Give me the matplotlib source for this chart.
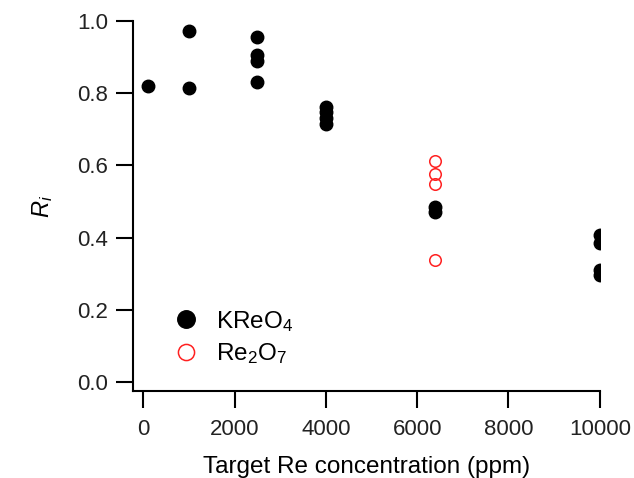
import matplotlib.pyplot as plt

plt.rcParams['font.family'] = ['Liberation Sans', 'DejaVu Sans']
plt.rcParams['mathtext.fontset'] = 'custom'
plt.rcParams['mathtext.rm'] = 'Liberation Sans'
plt.rcParams['mathtext.it'] = 'Liberation Sans:italic'

# KReO4 samples
kreo4_x = [100, 1000, 1000, 2500, 2500, 2500, 2500,
           4000, 4000, 4000, 4000, 6400, 6400,
           10000, 10000, 10000, 10000]
kreo4_y = [0.82, 0.972, 0.814, 0.956, 0.905, 0.89, 0.831,
           0.762, 0.748, 0.73, 0.715, 0.485, 0.47,
           0.407, 0.384, 0.31, 0.296]

# Re2O7 samples
re2o7_x = [6400, 6400, 6400, 6400]
re2o7_y = [0.612, 0.576, 0.548, 0.338]

fig, ax = plt.subplots(figsize=(6.34, 4.78), dpi=100)
fig.subplots_adjust(left=0.21, right=0.946, top=0.956, bottom=0.182)

ax.plot(kreo4_x, kreo4_y, 'o', color='black', markersize=9,
        label='KReO$_4$')
ax.plot(re2o7_x, re2o7_y, 'o', markerfacecolor='none',
        markeredgecolor='#ff2020', markeredgewidth=1.1, markersize=8.3,
        label='Re$_2$O$_7$')

ax.set_xlim(-220, 10000)
ax.set_ylim(-0.025, 1.0)
ax.set_xticks([0, 2000, 4000, 6000, 8000, 10000])
ax.set_yticks([0.0, 0.2, 0.4, 0.6, 0.8, 1.0])
ax.set_yticklabels(['0.0', '0.2', '0.4', '0.6', '0.8', '1.0'])

for s in ['top', 'right']:
    ax.spines[s].set_visible(False)
for s in ['left', 'bottom']:
    ax.spines[s].set_linewidth(1.5)
ax.tick_params(direction='out', length=12, width=1.5, labelsize=16,
               colors='black', labelcolor='#222222')
ax.tick_params(axis='y', pad=6)
ax.tick_params(axis='x', pad=8)

ax.set_xlabel('Target Re concentration (ppm)', fontsize=17.5, labelpad=12)
ax.set_ylabel('$R_i$', fontsize=17, labelpad=16)

ax.legend(loc='lower left', bbox_to_anchor=(0.055, 0.04), frameon=False,
          fontsize=17.5, handletextpad=0.5, labelspacing=0.32,
          markerscale=1.4, borderaxespad=0, handlelength=1.45)

fig.savefig('out.png', dpi=100)
